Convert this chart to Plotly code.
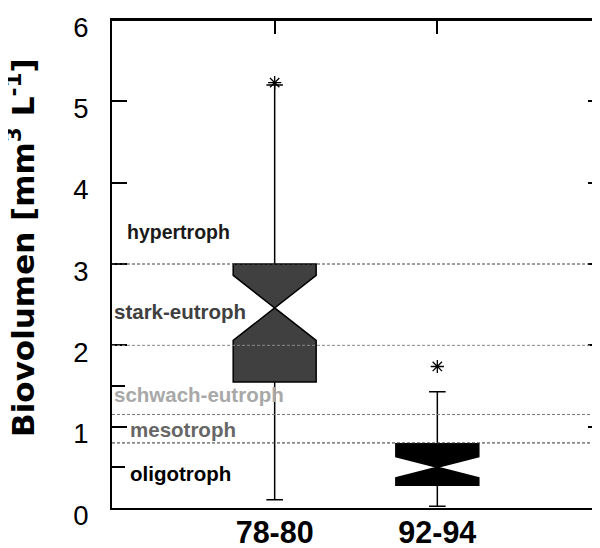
import plotly.graph_objects as go

# ---- data ----
categories = ["78-80", "92-94"]
q1 = [1.55, 0.28]
median = [2.46, 0.50]
q3 = [3.00, 0.79]
lowerfence = [0.10, 0.02]
upperfence = [5.20, 1.43]
notchspan = [0.40, 0.13]
outliers_y = [5.23, 1.74]
box_colors = ["#404040", "#000000"]

thresholds = [3.0, 2.0, 1.15, 0.8]
threshold_colors = ["#444444", "#888888", "#777777", "#333333"]

zone_labels = ["hypertroph", "stark-eutroph", "schwach-eutroph", "mesotroph", "oligotroph"]
zone_label_y = [3.39, 2.41, 1.39, 0.97, 0.43]
zone_label_x = [0.027, 0.0, 0.0, 0.033, 0.033]
zone_label_size = [19.5, 20.5, 20.5, 20.5, 20.5]
zone_label_colors = ["#1a1a1a", "#404040", "#a8a8a8", "#666666", "#000000"]

y_ticks = [0, 1, 2, 3, 4, 5, 6]
y_minor_ticks = [0.5, 1.5]

FONT = "Liberation Sans, Arial, sans-serif"
WIDE = "DejaVu Sans, sans-serif"

fig = go.Figure()

for i, c in enumerate(categories):
    fig.add_trace(go.Box(
        x=[c], q1=[q1[i]], median=[median[i]], q3=[q3[i]],
        lowerfence=[lowerfence[i]], upperfence=[upperfence[i]],
        notchspan=[notchspan[i]], notched=True, notchwidth=0.5,
        width=0.51, whiskerwidth=0.2,
        fillcolor=box_colors[i], line=dict(color="black", width=1.5),
        boxpoints=False, showlegend=False, hoverinfo="skip",
    ))

fig.add_trace(go.Scatter(
    x=categories, y=outliers_y, mode="markers",
    marker=dict(symbol="asterisk-open", size=11, color="black",
                line=dict(color="black", width=1.3)),
    showlegend=False, hoverinfo="skip",
))

# invisible traces so the top (x2) and right (y2) tick axes are drawn
fig.add_trace(go.Scatter(x=[categories[0]], y=[None], yaxis="y2",
                         mode="markers", showlegend=False, hoverinfo="skip"))
fig.add_trace(go.Scatter(x=[categories[0]], y=[None], xaxis="x2",
                         mode="markers", showlegend=False, hoverinfo="skip"))

# top frame line
fig.add_shape(type="line", xref="paper", x0=0, x1=1, yref="paper", y0=1, y1=1,
              line=dict(color="black", width=2), layer="above")

for yv, col in zip(thresholds, threshold_colors):
    fig.add_shape(type="line", xref="paper", x0=0, x1=1, yref="y", y0=yv, y1=yv,
                  line=dict(color=col, width=1, dash="3px,2px"), layer="above")

for txt, yv, xv, sz, col in zip(zone_labels, zone_label_y, zone_label_x,
                                zone_label_size, zone_label_colors):
    fig.add_annotation(text=txt, xref="paper", x=xv, yref="y", y=yv,
                       xanchor="left", yanchor="middle", showarrow=False,
                       font=dict(family=FONT, size=sz, color=col, weight="bold"))

fig.add_annotation(text="Biovolumen [mm<sup>3</sup> L<sup>-1</sup>]",
                   xref="paper", yref="paper", x=-0.1865, y=0.535,
                   xanchor="center", yanchor="middle", textangle=-90,
                   showarrow=False,
                   font=dict(family=WIDE, size=31, color="black", weight="bold"))

# page body has an 8px margin -> figure is 592x540 so it fills the 600x548 window
fig.update_layout(
    width=592, height=540,
    margin=dict(l=104, r=0, t=12, b=40, autoexpand=False),
    paper_bgcolor="white", plot_bgcolor="white",
    font=dict(family=FONT, color="black"),
    xaxis=dict(type="category", categoryarray=categories, range=[-1.0, 2.0],
               automargin=False,
               showline=True, linecolor="black", linewidth=2, mirror=False,
               ticks="", showgrid=False, zeroline=False, ticklabelstandoff=-4,
               tickfont=dict(family=FONT, size=30.5, color="black", weight="bold")),
    xaxis2=dict(type="category", categoryarray=categories, range=[-1.0, 2.0],
                overlaying="x", side="top", matches="x", automargin=False,
                showline=True, linecolor="black", linewidth=2,
                ticks="inside", ticklen=14, tickwidth=1.5, tickcolor="black",
                showgrid=False, zeroline=False, showticklabels=False),
    yaxis=dict(range=[0, 6], tickvals=y_ticks, automargin=False,
               showline=True, linecolor="black", linewidth=2, mirror=False,
               ticks="inside", ticklen=15, tickwidth=2, tickcolor="black",
               showgrid=False, zeroline=False, ticklabelstandoff=16,
               ticklabelshift=7,
               tickfont=dict(family=FONT, size=27.5, color="black"),
               minor=dict(tickvals=y_minor_ticks, ticks="inside", ticklen=13,
                          tickwidth=2, tickcolor="black", showgrid=False)),
    yaxis2=dict(overlaying="y", side="right", matches="y", range=[0, 6],
                automargin=False,
                tickvals=y_ticks, showline=False, showgrid=False, zeroline=False,
                ticks="inside", ticklen=12, tickwidth=2, tickcolor="black",
                showticklabels=False),
)

fig.write_html("out.html")
